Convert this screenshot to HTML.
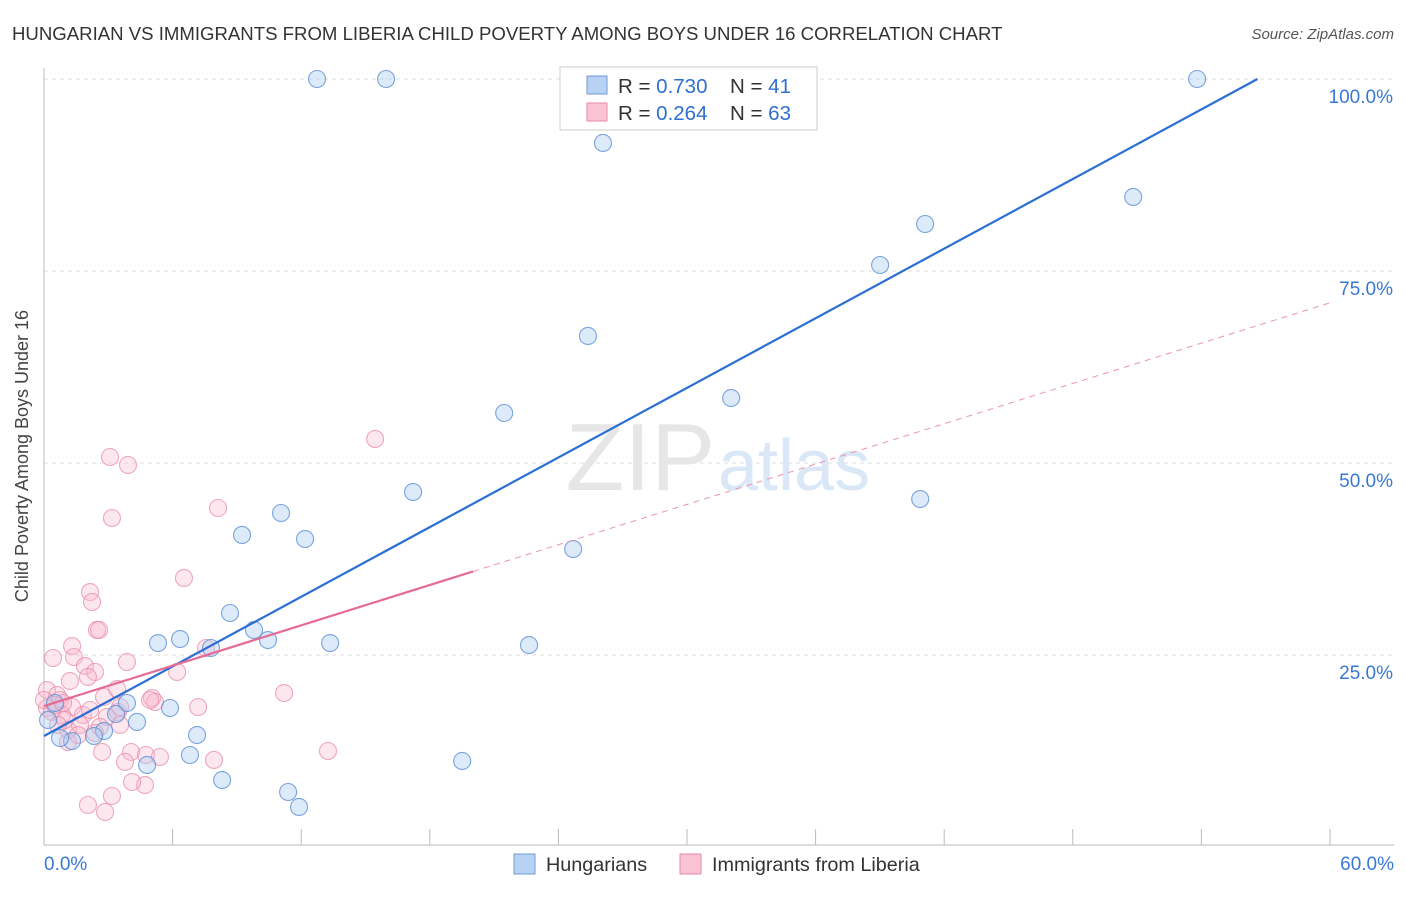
<!DOCTYPE html>
<html><head><meta charset="utf-8"><style>
body{margin:0;background:#fff;font-family:"Liberation Sans",sans-serif;}
svg text{font-family:"Liberation Sans",sans-serif;}
</style></head><body>
<svg id="chart" width="1406" height="892" viewBox="0 0 1406 892">
<text x="12" y="40" font-size="18.6" fill="#333">HUNGARIAN VS IMMIGRANTS FROM LIBERIA CHILD POVERTY AMONG BOYS UNDER 16 CORRELATION CHART</text>
<text x="1394" y="39" font-size="15" fill="#555" font-style="italic" text-anchor="end">Source: ZipAtlas.com</text>
<g id="grid"></g>
<text x="715" y="490" font-size="96" fill="#e6e6e6" text-anchor="end" font-family="Liberation Serif">ZIP</text>
<text x="718" y="490" font-size="72" fill="#d9e7f6">atlas</text>
<g id="axes"></g>
<g id="pts"></g>
<g id="lines"></g>
<text x="28" y="456" font-size="18" fill="#444" text-anchor="middle" transform="rotate(-90 28 456)">Child Poverty Among Boys Under 16</text>
<g>
<rect x="560" y="67" width="257" height="63" fill="#fff" stroke="#ccc"/>
<rect x="587" y="76" width="20" height="18" fill="#b8d2f4" stroke="#6f9ad6"/>
<rect x="587" y="103" width="20" height="18" fill="#f9c3d3" stroke="#e88aa8"/>
<text x="618" y="93" font-size="20.5" fill="#333">R = <tspan fill="#2f6fd0">0.730</tspan></text>
<text x="730" y="93" font-size="20.5" fill="#333">N = <tspan fill="#2f6fd0"> 41</tspan></text>
<text x="618" y="120" font-size="20.5" fill="#333">R = <tspan fill="#2f6fd0">0.264</tspan></text>
<text x="730" y="120" font-size="20.5" fill="#333">N = <tspan fill="#2f6fd0">63</tspan></text>
</g>
<g>
<rect x="514" y="854" width="21" height="20" fill="#b8d2f4" stroke="#6f9ad6"/>
<text x="546" y="871" font-size="19.8" fill="#333">Hungarians</text>
<rect x="680" y="854" width="21" height="20" fill="#f9c3d3" stroke="#e88aa8"/>
<text x="712" y="871" font-size="19.8" fill="#333">Immigrants from Liberia</text>
</g>
</svg>
<script>
const xTicks=[0,6,12,18,24,30,36,42,48,54,60];
const yTicks=[25,50,75,100];
const blueX=[12.74,15.96,53.8,26.08,50.82,41.11,39.01,25.38,21.47,32.06,17.22,40.88,24.69,9.24,11.06,12.18,8.68,5.32,6.35,7.79,9.80,10.45,13.35,22.63,5.88,4.34,3.87,3.36,2.80,2.33,1.31,0.75,0.51,7.14,6.81,4.81,8.31,11.39,11.90,19.51,0.19];
const blueY=[100,100,100,91.67,84.64,81.12,75.78,66.54,56.51,58.46,46.22,45.31,38.80,40.63,43.49,40.10,30.47,26.56,27.08,25.91,28.26,26.95,26.56,26.30,18.10,16.28,18.75,17.32,15.10,14.45,13.80,14.19,18.75,14.58,11.98,10.68,8.72,7.16,5.21,11.20,16.54];
const pinkX=[15.45,3.08,3.92,3.17,8.12,6.53,2.15,2.24,2.47,2.57,1.31,0.42,1.40,1.91,2.38,1.21,3.87,6.21,7.56,0.14,0.61,0.75,1.31,2.05,2.80,3.41,5.04,5.18,3.45,2.94,0.14,0.37,0.84,1.82,2.61,2.38,1.12,1.12,2.71,3.55,4.06,4.76,5.41,3.78,4.71,4.11,2.05,2.85,3.17,7.93,7.19,11.20,13.25,0.98,1.68,0.51,3.55,4.95,2.15,0.0,0.89,1.59,0.65];
const pinkY=[53.13,50.78,49.74,42.84,44.14,35.03,33.20,31.90,28.26,28.26,26.17,24.61,24.74,23.57,22.79,21.61,24.09,22.79,25.91,20.44,19.79,19.14,18.23,22.14,19.53,20.57,19.40,18.88,17.58,16.93,18.10,17.58,17.19,17.19,15.63,14.84,15.23,13.67,12.37,15.89,12.37,11.98,11.72,11.07,8.07,8.46,5.47,4.56,6.64,11.33,18.23,20.05,12.50,16.54,15.89,18.49,18.23,19.14,17.84,19.14,18.75,14.58,15.89];
const blueFit=[14.45,1.511];
const pinkFit=[18.36,0.875];
const pinkSolidEnd=20.02;
const NS='http://www.w3.org/2000/svg';
const sx=v=>44+v*21.433;
const sy=v=>847-v*7.68;
function mk(tag,attrs,parent){const e=document.createElementNS(NS,tag);for(const k in attrs)e.setAttribute(k,attrs[k]);parent.appendChild(e);return e;}
const grid=document.getElementById('grid'),axes=document.getElementById('axes'),pts=document.getElementById('pts'),lines=document.getElementById('lines');
yTicks.forEach(t=>{
 const l=mk('line',{x1:44,x2:1394,y1:sy(t),y2:sy(t),stroke:'#ddd','stroke-dasharray':'4,4'},grid);
 
 
 const tx=mk('text',{x:1393,y:sy(t)+24,'font-size':19,fill:'#3a78d6','text-anchor':'end'},axes);
 tx.textContent=t.toFixed(1)+'%';
 
 
});
const xa=mk('line',{x1:44,x2:1394,y1:845,y2:845,stroke:'#bbb'},axes);


const ya=mk('line',{x1:44,x2:44,y1:68,y2:845,stroke:'#bbb'},axes);


xTicks.forEach(t=>{
 const l=mk('line',{x1:sx(t),x2:sx(t),y1:829,y2:845,stroke:'#bbb'},axes);
 
 
});
[[0,'start',44],[60,'end',1394]].forEach(([t,a,x])=>{
 const tx=mk('text',{x:x,y:870,'font-size':19,fill:'#3a78d6','text-anchor':a},axes);
 tx.textContent=t.toFixed(1)+'%';
 
 
});
pinkX.forEach((x,i)=>{
 const c=mk('circle',{cx:sx(x),cy:sy(pinkY[i]),r:8.5,fill:'rgba(248,185,205,0.35)',stroke:'rgba(232,140,170,0.75)','stroke-width':1.1},pts);
 
 
});
blueX.forEach((x,i)=>{
 const c=mk('circle',{cx:sx(x),cy:sy(blueY[i]),r:8.5,fill:'rgba(170,202,242,0.4)',stroke:'rgba(90,142,214,0.8)','stroke-width':1.1},pts);
 
 
});
const bEnd=(100-blueFit[0])/blueFit[1];
const bl=mk('line',{x1:sx(0),y1:sy(blueFit[0]),x2:sx(bEnd),y2:sy(100),stroke:'#2a6fd4','stroke-width':2.2},lines);


const pd=mk('line',{x1:sx(pinkSolidEnd),y1:sy(pinkFit[0]+pinkFit[1]*pinkSolidEnd),x2:sx(60),y2:sy(pinkFit[0]+pinkFit[1]*60),stroke:'#e994b0','stroke-width':1,'stroke-dasharray':'6,5'},lines);


const pl=mk('line',{x1:sx(0),y1:sy(pinkFit[0]),x2:sx(pinkSolidEnd),y2:sy(pinkFit[0]+pinkFit[1]*pinkSolidEnd),stroke:'#e56a94','stroke-width':2.2},lines);


</script>
</body></html>
